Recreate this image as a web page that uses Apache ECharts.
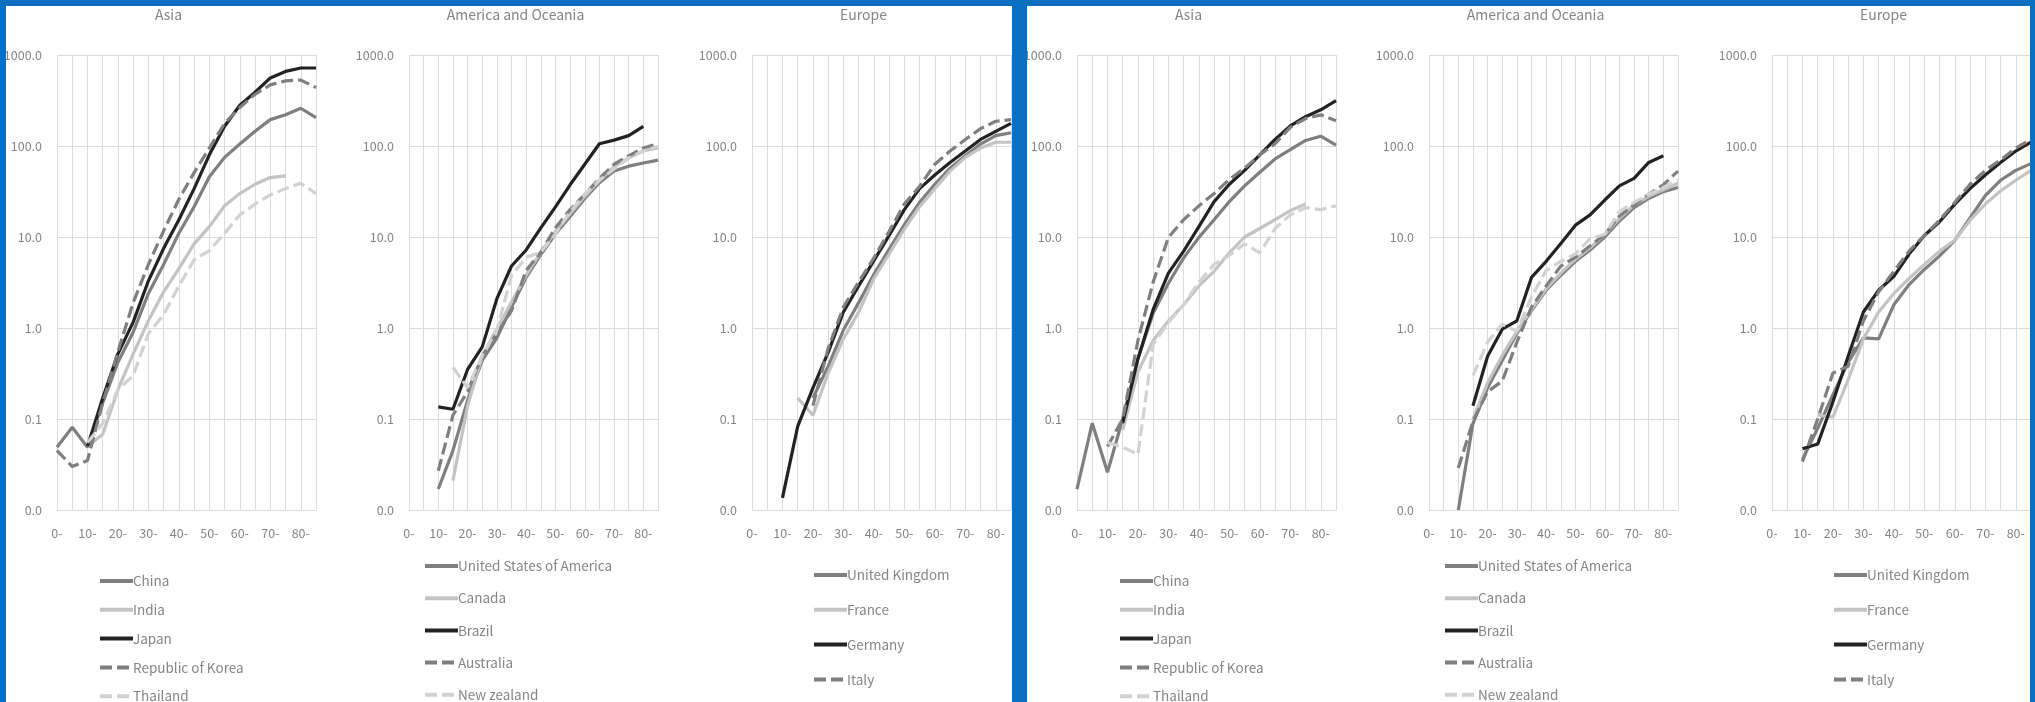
<!DOCTYPE html>
<html><head><meta charset="utf-8">
<script src="https://cdn.jsdelivr.net/npm/echarts@6/dist/echarts.min.js"></script>
<style>html,body{margin:0;padding:0;background:#fff;overflow:hidden}#c{width:2035px;height:800px}</style>
</head><body><div id="c"></div>
<script>
// ---- categories & ticks ----
const ages = ['0-','5-','10-','15-','20-','25-','30-','35-','40-','45-','50-','55-','60-','65-','70-','75-','80-','85-'];
const yTicks = [0.01, 0.1, 1, 10, 100, 1000];
const regionTitles = ['Asia', 'America and Oceania', 'Europe'];
const asiaNames = ['China', 'India', 'Japan', 'Republic of Korea', 'Thailand'];
const americaNames = ['United States of America', 'Canada', 'Brazil', 'Australia', 'New zealand'];
const europeNames = ['United Kingdom', 'France', 'Germany', 'Italy'];

// ---- left panel values ----
const chinaL     = [0.049,0.081,0.049,0.15,0.42,0.9,2.4,5.0,11,21.5,46,75,105,145,195,220,260,205];
const indiaL     = [null,null,0.05,0.068,0.21,0.52,1.2,2.5,4.5,8.4,13,22,30,38,45,47,null,null];
const japanL     = [null,null,0.05,0.17,0.52,1.16,3.3,7.5,15.5,34,80,165,280,390,560,660,720,720];
const koreaL     = [0.045,0.03,0.035,0.15,0.55,1.9,5.0,11.7,26,51,95,177,265,370,470,520,530,440];
const thailandL  = [null,null,0.055,0.09,0.21,0.3,0.87,1.4,2.9,5.6,7.1,11,17.5,23,29,34,39,30];
const usaL       = [null,null,0.017,0.045,0.16,0.44,0.78,1.7,3.6,6.4,10.8,16.8,26.5,39.5,53,60,65,70];
const canadaL    = [null,null,null,0.021,0.14,0.49,0.98,1.93,3.8,6.8,11.5,18,28,42,59,74,88,95];
const brazilL    = [null,null,0.136,0.128,0.35,0.62,2.1,4.8,7.2,12.6,21.4,37.5,63,106,116,130,164,null];
const australiaL = [null,null,0.027,0.11,0.2,0.49,0.87,1.55,4.3,6.8,12.6,20,29.5,44,63,78,95,106];
const nzL        = [null,null,null,0.37,0.22,0.5,0.95,3.8,6.0,6.8,10.8,19,29.5,42,56,74,88,99];
const ukL        = [null,null,null,null,0.17,0.38,0.95,1.9,3.9,7.3,13.7,24,38,57,78,105,130,140];
const franceL    = [null,null,null,0.17,0.11,0.32,0.76,1.5,3.5,6.5,12.2,21.5,34,53,75,95,110,110];
const germanyL   = [null,null,0.0136,0.083,0.22,0.54,1.5,2.9,5.5,10.4,20,34,48,66,88,118,145,177];
const italyL     = [null,null,null,null,0.14,0.6,1.7,3.2,5.9,11.5,23,36,63,88,118,155,187,195];

// ---- right panel values ----
const chinaR     = [0.017,0.09,0.026,0.1,0.46,1.45,3.1,5.9,9.9,15.5,24.5,36.5,51.5,72,91,115,128,102];
const indiaR     = [null,null,null,0.076,0.33,0.73,1.2,1.8,2.9,4.2,6.7,10,12.4,15.5,19.5,23,null,null];
const japanR     = [null,null,null,0.09,0.46,1.6,4.0,7.0,13,24.5,38,54,80,118,166,210,250,315];
const koreaR     = [null,null,0.05,0.1,0.73,3.2,9.9,15.5,22,30,43,57,80,106,160,200,220,190];
const thailandR  = [null,null,0.055,0.049,0.041,0.66,1.15,1.8,3.2,5.0,6.3,8.4,6.7,12.4,17.5,21,20,22];
const usaR       = [null,null,0.01,0.089,0.22,0.44,0.87,1.55,2.6,3.8,5.4,7.2,10,15,21,26.5,31.5,35];
const canadaR    = [null,null,null,0.1,0.25,0.5,0.92,1.6,2.7,4.0,5.7,7.6,10.7,16,22.5,28,33,39];
const brazilR    = [null,null,null,0.14,0.49,0.97,1.2,3.6,5.4,8.5,13.5,17.5,25.5,36.5,44,66,78,null];
const australiaR = [null,null,0.029,0.094,0.2,0.26,0.7,1.7,2.9,4.8,6.0,8.0,10.7,17,22.5,29.5,37.5,53];
const nzR        = [null,null,null,0.3,0.7,1.1,0.92,2.2,4.3,5.4,6.5,9.6,10.7,19,24,29.5,35,42];
const ukR        = [null,null,0.036,0.079,0.185,0.42,0.78,0.76,1.8,3.0,4.4,6.2,9.2,16.2,28.5,42,54,64];
const franceR    = [null,null,null,0.11,0.105,0.27,0.76,1.5,2.4,3.5,5.0,7.0,9.2,15.3,23,32,42,54];
const germanyR   = [null,null,0.047,0.053,0.155,0.49,1.5,2.6,3.7,6.5,10.4,14.7,23,34,48,66,88,110];
const italyR     = [null,null,0.034,0.1,0.32,0.38,1.2,2.5,4.2,7.0,10.4,15.3,24,38,54,70,95,118];

// ---- styling ----
const FONT = '"Noto Sans CJK JP", "Noto Sans", sans-serif';
const TXT = '#858585';
const GRIDC = '#dcdcdc';
const BLUE = '#0A6FC0';
const styles = [
  {color:'#7f7f7f', type:'solid'},
  {color:'#c3c3c3', type:'solid'},
  {color:'#222222', type:'solid'},
  {color:'#7f7f7f', type:[12,5]},
  {color:'#d2d2d2', type:[12,5]}
];

const charts = [
  {title:0, names:asiaNames, data:[chinaL,indiaL,japanL,koreaL,thailandL], gl:57, gw:259, lx:98, lt:574, gap:14.8},
  {title:1, names:americaNames, data:[usaL,canadaL,brazilL,australiaL,nzL], gl:409, gw:249, lx:423, lt:559, gap:18.2},
  {title:2, names:europeNames, data:[ukL,franceL,germanyL,italyL], gl:752, gw:259, lx:812, lt:568, gap:20.8},
  {title:0, names:asiaNames, data:[chinaR,indiaR,japanR,koreaR,thailandR], gl:1077, gw:259, lx:1118, lt:574, gap:14.8},
  {title:1, names:americaNames, data:[usaR,canadaR,brazilR,australiaR,nzR], gl:1429, gw:249, lx:1443, lt:559, gap:18.2},
  {title:2, names:europeNames, data:[ukR,franceR,germanyR,italyR], gl:1772, gw:259, lx:1832, lt:568, gap:20.8}
];

const option = {
  animation:false,
  title:[], grid:[], xAxis:[], yAxis:[], legend:[], series:[],
  graphic:{elements:[
    {type:'rect', shape:{x:0,y:0,width:2035,height:6}, style:{fill:BLUE}, z:100},
    {type:'rect', shape:{x:0,y:0,width:6,height:800}, style:{fill:BLUE}, z:100},
    {type:'rect', shape:{x:1012,y:0,width:15,height:800}, style:{fill:BLUE}, z:100},
    {type:'rect', shape:{x:2030,y:0,width:5,height:800}, style:{fill:BLUE}, z:100}
  ]}
};

charts.forEach((c, i) => {
  option.title.push({text:regionTitles[c.title], left:c.gl + c.gw/2 - 18, top:8, padding:0, textAlign:'center',
    textStyle:{color:TXT, fontSize:14, fontWeight:'normal', fontFamily:FONT}});
  option.grid.push({left:c.gl, top:55, width:c.gw, height:455});
  option.xAxis.push({type:'category', gridIndex:i, data:ages, boundaryGap:false,
    axisLine:{show:true, lineStyle:{color:GRIDC}}, axisTick:{show:false},
    axisLabel:{interval:1, color:TXT, fontSize:12.5, fontFamily:FONT, margin:17},
    splitLine:{show:true, interval:0, lineStyle:{color:GRIDC, width:1}}});
  option.yAxis.push({type:'log', logBase:10, gridIndex:i, min:yTicks[0], max:yTicks[yTicks.length-1],
    axisLine:{show:false}, axisTick:{show:false},
    axisLabel:{color:TXT, fontSize:12.5, fontFamily:FONT, margin:15, formatter:v => Number(v).toFixed(1)},
    splitLine:{show:true, lineStyle:{color:GRIDC, width:1}}});
  option.legend.push({orient:'vertical', left:c.lx, top:c.lt, padding:0, itemWidth:33, itemHeight:14, itemGap:c.gap,
    data:c.names, selectedMode:false,
    itemStyle:{opacity:0},
    lineStyle:{width:4},
    textStyle:{color:TXT, fontSize:13.5, fontFamily:FONT, lineHeight:14, padding:[0,0,0,-5]}});
  c.data.forEach((d, k) => {
    const st = styles[k];
    option.series.push({type:'line', name:c.names[k], xAxisIndex:i, yAxisIndex:i, data:d,
      symbol:'none', connectNulls:false, lineStyle:{color:st.color, width:3.2, type:st.type},
      itemStyle:{color:st.color}});
  });
});

const chart = echarts.init(document.getElementById('c'), null, {renderer:'canvas'});
chart.setOption(option);
</script></body></html>
